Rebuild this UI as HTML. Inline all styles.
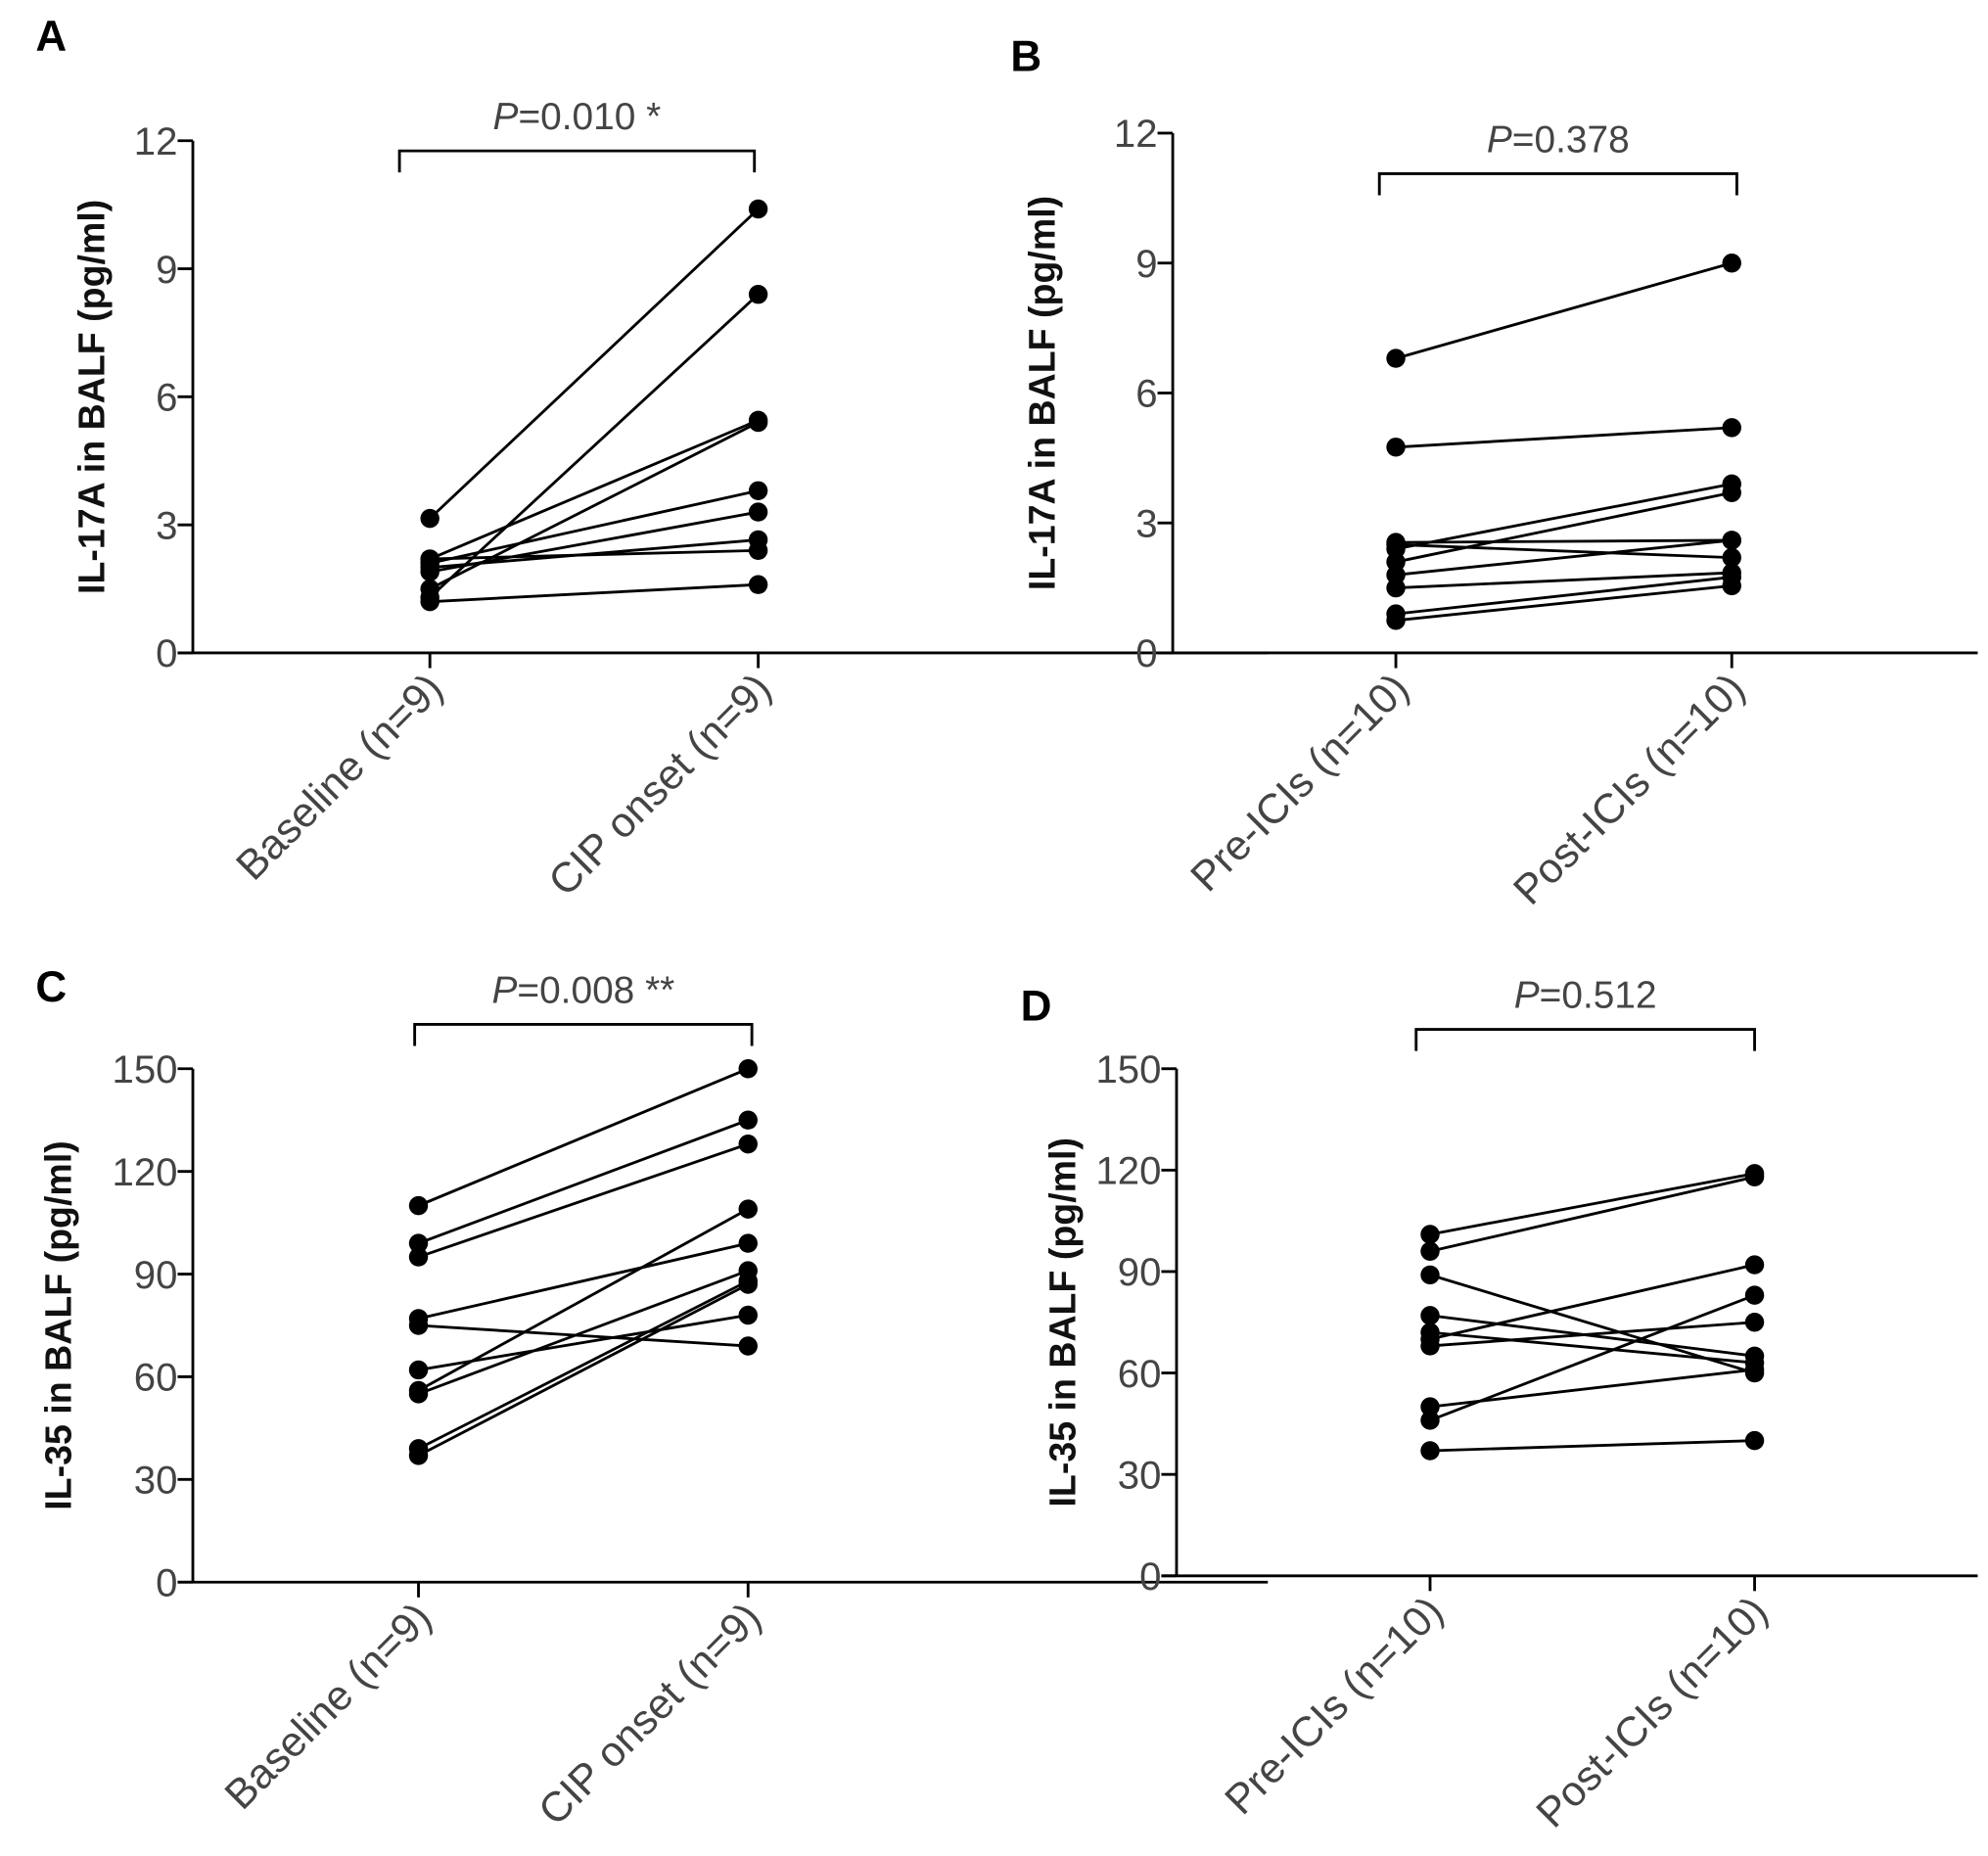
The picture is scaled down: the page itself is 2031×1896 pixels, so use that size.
<!DOCTYPE html>
<html><head><meta charset="utf-8"><style>
html,body{margin:0;padding:0;background:#fff}
svg{display:block}
text{font-family:"Liberation Sans",Arial,sans-serif}
</style></head><body>
<svg id="fig" width="2031" height="1896" viewBox="0 0 1568 1464"></svg>
<script>
const panelLetters=["A","B","C","D"];
const yTitles=["IL-17A in BALF (pg/ml)","IL-17A in BALF (pg/ml)","IL-35 in BALF (pg/ml)","IL-35 in BALF (pg/ml)"];
const pTexts=["=0.010 *","=0.378","=0.008 **","=0.512"];
const catsA=["Baseline (n=9)","CIP onset (n=9)"];
const catsB=["Pre-ICIs (n=10)","Post-ICIs (n=10)"];
const ticksA=[0,3,6,9,12];
const ticksC=[0,30,60,90,120,150];
const beforeA=[3.15,1.3,2.2,1.5,2.1,1.9,2.0,2.2,1.2];
const afterA=[10.4,8.4,5.45,5.4,3.8,3.3,2.65,2.4,1.6];
const beforeB=[6.8,4.75,2.55,2.5,2.4,2.1,1.8,1.5,0.9,0.75];
const afterB=[9.0,5.2,2.6,2.2,3.9,3.7,2.6,1.85,1.75,1.55];
const beforeC=[110,99,95,77,75,62,56,55,39,37];
const afterC=[150,135,128,99,69,78,109,91,88,87];
const beforeD=[101,96,89,77,72,70,68,50,46,37];
const afterD=[119,118,60,65,63,92,75,61,83,40];

const panels=[
 {ax:152,y0:515,yTop:111,max:12,x1:339,x2:598,xEnd:1000,br:119,bl:315,brr:595,lx:28,ly:40,tx:72,cats:catsA,ticks:ticksA,b:beforeA,a:afterA},
 {ax:925,y0:515,yTop:105,max:12,x1:1101,x2:1366,xEnd:1560,br:137,bl:1088,brr:1370,lx:797,ly:56,tx:822,cats:catsB,ticks:ticksA,b:beforeB,a:afterB},
 {ax:152,y0:1248,yTop:843,max:150,x1:330,x2:590,xEnd:1000,br:808,bl:327,brr:593,lx:28,ly:790,tx:46,cats:catsA,ticks:ticksC,b:beforeC,a:afterC},
 {ax:928,y0:1243,yTop:843,max:150,x1:1128,x2:1384,xEnd:1560,br:812,bl:1117,brr:1384,lx:805,ly:805,tx:838,cats:catsB,ticks:ticksC,b:beforeD,a:afterD}
];
const NS="http://www.w3.org/2000/svg";
const svg=document.getElementById('fig');
function mk(tag,attrs,parent,txt){const e=document.createElementNS(NS,tag);for(const k in attrs)e.setAttribute(k,attrs[k]);if(txt!==undefined)e.textContent=txt;(parent||svg).appendChild(e);return e;}
panels.forEach((p,i)=>{
 const g=mk('g',{});
 
 
 const y=v=>p.y0-(v/p.max)*(p.y0-p.yTop);
 const L=mk('text',{x:p.lx,y:p.ly,'font-size':34,'font-weight':'bold',fill:'#000'},g,panelLetters[i]);
 
 
 const ya=mk('line',{x1:p.ax,y1:p.yTop,x2:p.ax,y2:p.y0,stroke:'#000','stroke-width':2.2},g);
 
 
 const xa=mk('line',{x1:p.ax-12,y1:p.y0,x2:p.xEnd,y2:p.y0,stroke:'#000','stroke-width':2.2},g);
 
 
 p.ticks.forEach(t=>{
  mk('line',{x1:p.ax-12,y1:y(t),x2:p.ax,y2:y(t),stroke:'#000','stroke-width':2.2},g);
  const tl=mk('text',{x:p.ax-12,y:y(t)+11,'font-size':31,fill:'#444','text-anchor':'end'},g,String(t));
  
  
 });
 const cy=(p.yTop+p.y0)/2;
 const yt=mk('text',{x:0,y:0,'font-size':29,'font-weight':'bold',fill:'#111','text-anchor':'middle',transform:`translate(${p.tx+10},${cy}) rotate(-90)`},g,yTitles[i]);
 
 
 [p.x1,p.x2].forEach((cx,j)=>{
  mk('line',{x1:cx,y1:p.y0,x2:cx,y2:p.y0+12,stroke:'#000','stroke-width':2.2},g);
  const ct=mk('text',{x:0,y:0,'font-size':33,fill:'#444','text-anchor':'end',transform:`translate(${cx+12},${p.y0+30}) rotate(-45)`},g,p.cats[j]);
  
  
 });
 const br=mk('path',{d:`M${p.bl},${p.br+17}V${p.br}H${p.brr}V${p.br+17}`,fill:'none',stroke:'#000','stroke-width':2.2},g);
 
 
 const pt=mk('text',{x:(p.bl+p.brr)/2,y:p.br-17,'font-size':30,fill:'#444','text-anchor':'middle'},g);
 
 
 mk('tspan',{'font-style':'italic'},pt,'P');
 mk('tspan',{},pt,pTexts[i]);
 p.b.forEach((bv,k)=>{
  const ln=mk('line',{x1:p.x1,y1:y(bv),x2:p.x2,y2:y(p.a[k]),stroke:'#000','stroke-width':2.2},g);
  
  
 });
 p.b.forEach((bv,k)=>{
  const c1=mk('circle',{cx:p.x1,cy:y(bv),r:7.5,fill:'#000'},g);
  
  
  const c2=mk('circle',{cx:p.x2,cy:y(p.a[k]),r:7.5,fill:'#000'},g);
  
  
 });
});
</script>
</body></html>
